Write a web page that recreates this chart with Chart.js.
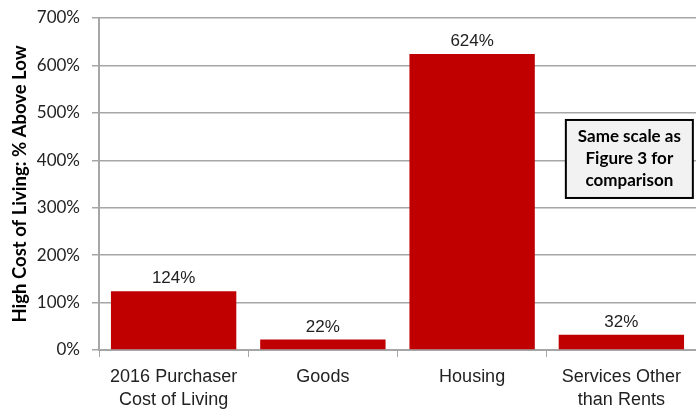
<!DOCTYPE html>
<html>
<head>
<meta charset="utf-8">
<script src="https://cdn.jsdelivr.net/npm/chart.js@4"></script>
<style>
  html, body { margin: 0; padding: 0; background: #fff; }
  #wrap { position: relative; width: 696px; height: 412px; }
</style>
</head>
<body>
<div id="wrap"><canvas id="costChart"></canvas></div>
<script>
// chart data
const categories = [
  ["2016 Purchaser", "Cost of Living"],
  "Goods",
  "Housing",
  ["Services Other", "than Rents"]
];
const pctAboveLow = [124, 22, 624, 32];
const yTicks = [0, 100, 200, 300, 400, 500, 600, 700];
const noteLines = ["Same scale as", "Figure 3 for", "comparison"];

const barRed = "#c00000";
const gridGray = "#a6a6a6";
const narrow = "'Liberation Sans Narrow', 'Arial Narrow', 'Liberation Sans', sans-serif";

// labels above bars + the note box
const extrasPlugin = {
  id: "extras",
  afterDatasetsDraw(chart) {
    const ctx = chart.ctx;
    const meta = chart.getDatasetMeta(0);
    ctx.save();
    ctx.fillStyle = "#222";
    ctx.font = "17px " + narrow;
    ctx.textAlign = "center";
    ctx.textBaseline = "alphabetic";
    meta.data.forEach((bar, i) => {
      ctx.fillText(pctAboveLow[i] + "%", bar.x, bar.y - 8);
    });

    // note box, placed relative to the chart area
    const area = chart.chartArea;
    const bx = area.left + (area.right - area.left) * 0.782;
    const by = chart.scales.y.getPixelForValue(485);
    const bw = 127, bh = 78;
    ctx.fillStyle = "#f2f2f2";
    ctx.fillRect(bx, by, bw, bh);
    ctx.strokeStyle = "#000";
    ctx.lineWidth = 2;
    ctx.strokeRect(bx, by, bw, bh);
    ctx.fillStyle = "#000";
    ctx.font = "bold 17px Lato, 'Open Sans', sans-serif";
    ctx.textBaseline = "middle";
    noteLines.forEach((t, i) => {
      ctx.fillText(t, bx + bw / 2, by + 17 + i * 22);
    });
    ctx.restore();
  }
};

const chart = new Chart(document.getElementById("costChart"), {
  type: "bar",
  data: {
    labels: categories,
    datasets: [{
      data: pctAboveLow,
      backgroundColor: barRed,
      borderWidth: 0,
      categoryPercentage: 0.84,
      barPercentage: 1.0
    }]
  },
  options: {
    responsive: true,
    maintainAspectRatio: false,
    animation: false,
    layout: { padding: { top: 18, right: 0, left: 0, bottom: 0 } },
    plugins: {
      legend: { display: false },
      tooltip: { enabled: false }
    },
    scales: {
      x: {
        offset: true,
        afterFit(scale) {
          scale.height = 62;
          scale.paddingLeft = 0;
          scale.paddingRight = 0;
        },
        grid: {
          offset: true,
          drawOnChartArea: false,
          drawTicks: true,
          tickLength: 7,
          color: gridGray
        },
        border: { color: gridGray, width: 2 },
        ticks: {
          color: "#222",
          font: { family: narrow, size: 18, lineHeight: 1.3 },
          padding: 8,
          maxRotation: 0,
          autoSkip: false
        }
      },
      y: {
        min: 0,
        max: 700,
        afterBuildTicks(scale) {
          scale.ticks = yTicks.map(v => ({ value: v }));
        },
        afterFit(scale) {
          scale.width = 99;
          scale.paddingTop = 0;
          scale.paddingBottom = 0;
        },
        grid: {
          color: gridGray,
          lineWidth: 1.5,
          tickLength: 7
        },
        border: { color: gridGray, width: 2 },
        ticks: {
          color: "#222",
          font: { family: "Lato, 'Open Sans', sans-serif", size: 17 },
          padding: 12,
          callback: v => v + "%"
        },
        title: {
          display: true,
          text: "High Cost of Living: % Above Low",
          color: "#000",
          font: { family: "Lato, 'Open Sans', sans-serif", size: 18.5, weight: "bold" },
          padding: { top: 9, bottom: 2 }
        }
      }
    }
  },
  plugins: [extrasPlugin]
});
</script>
</body>
</html>
